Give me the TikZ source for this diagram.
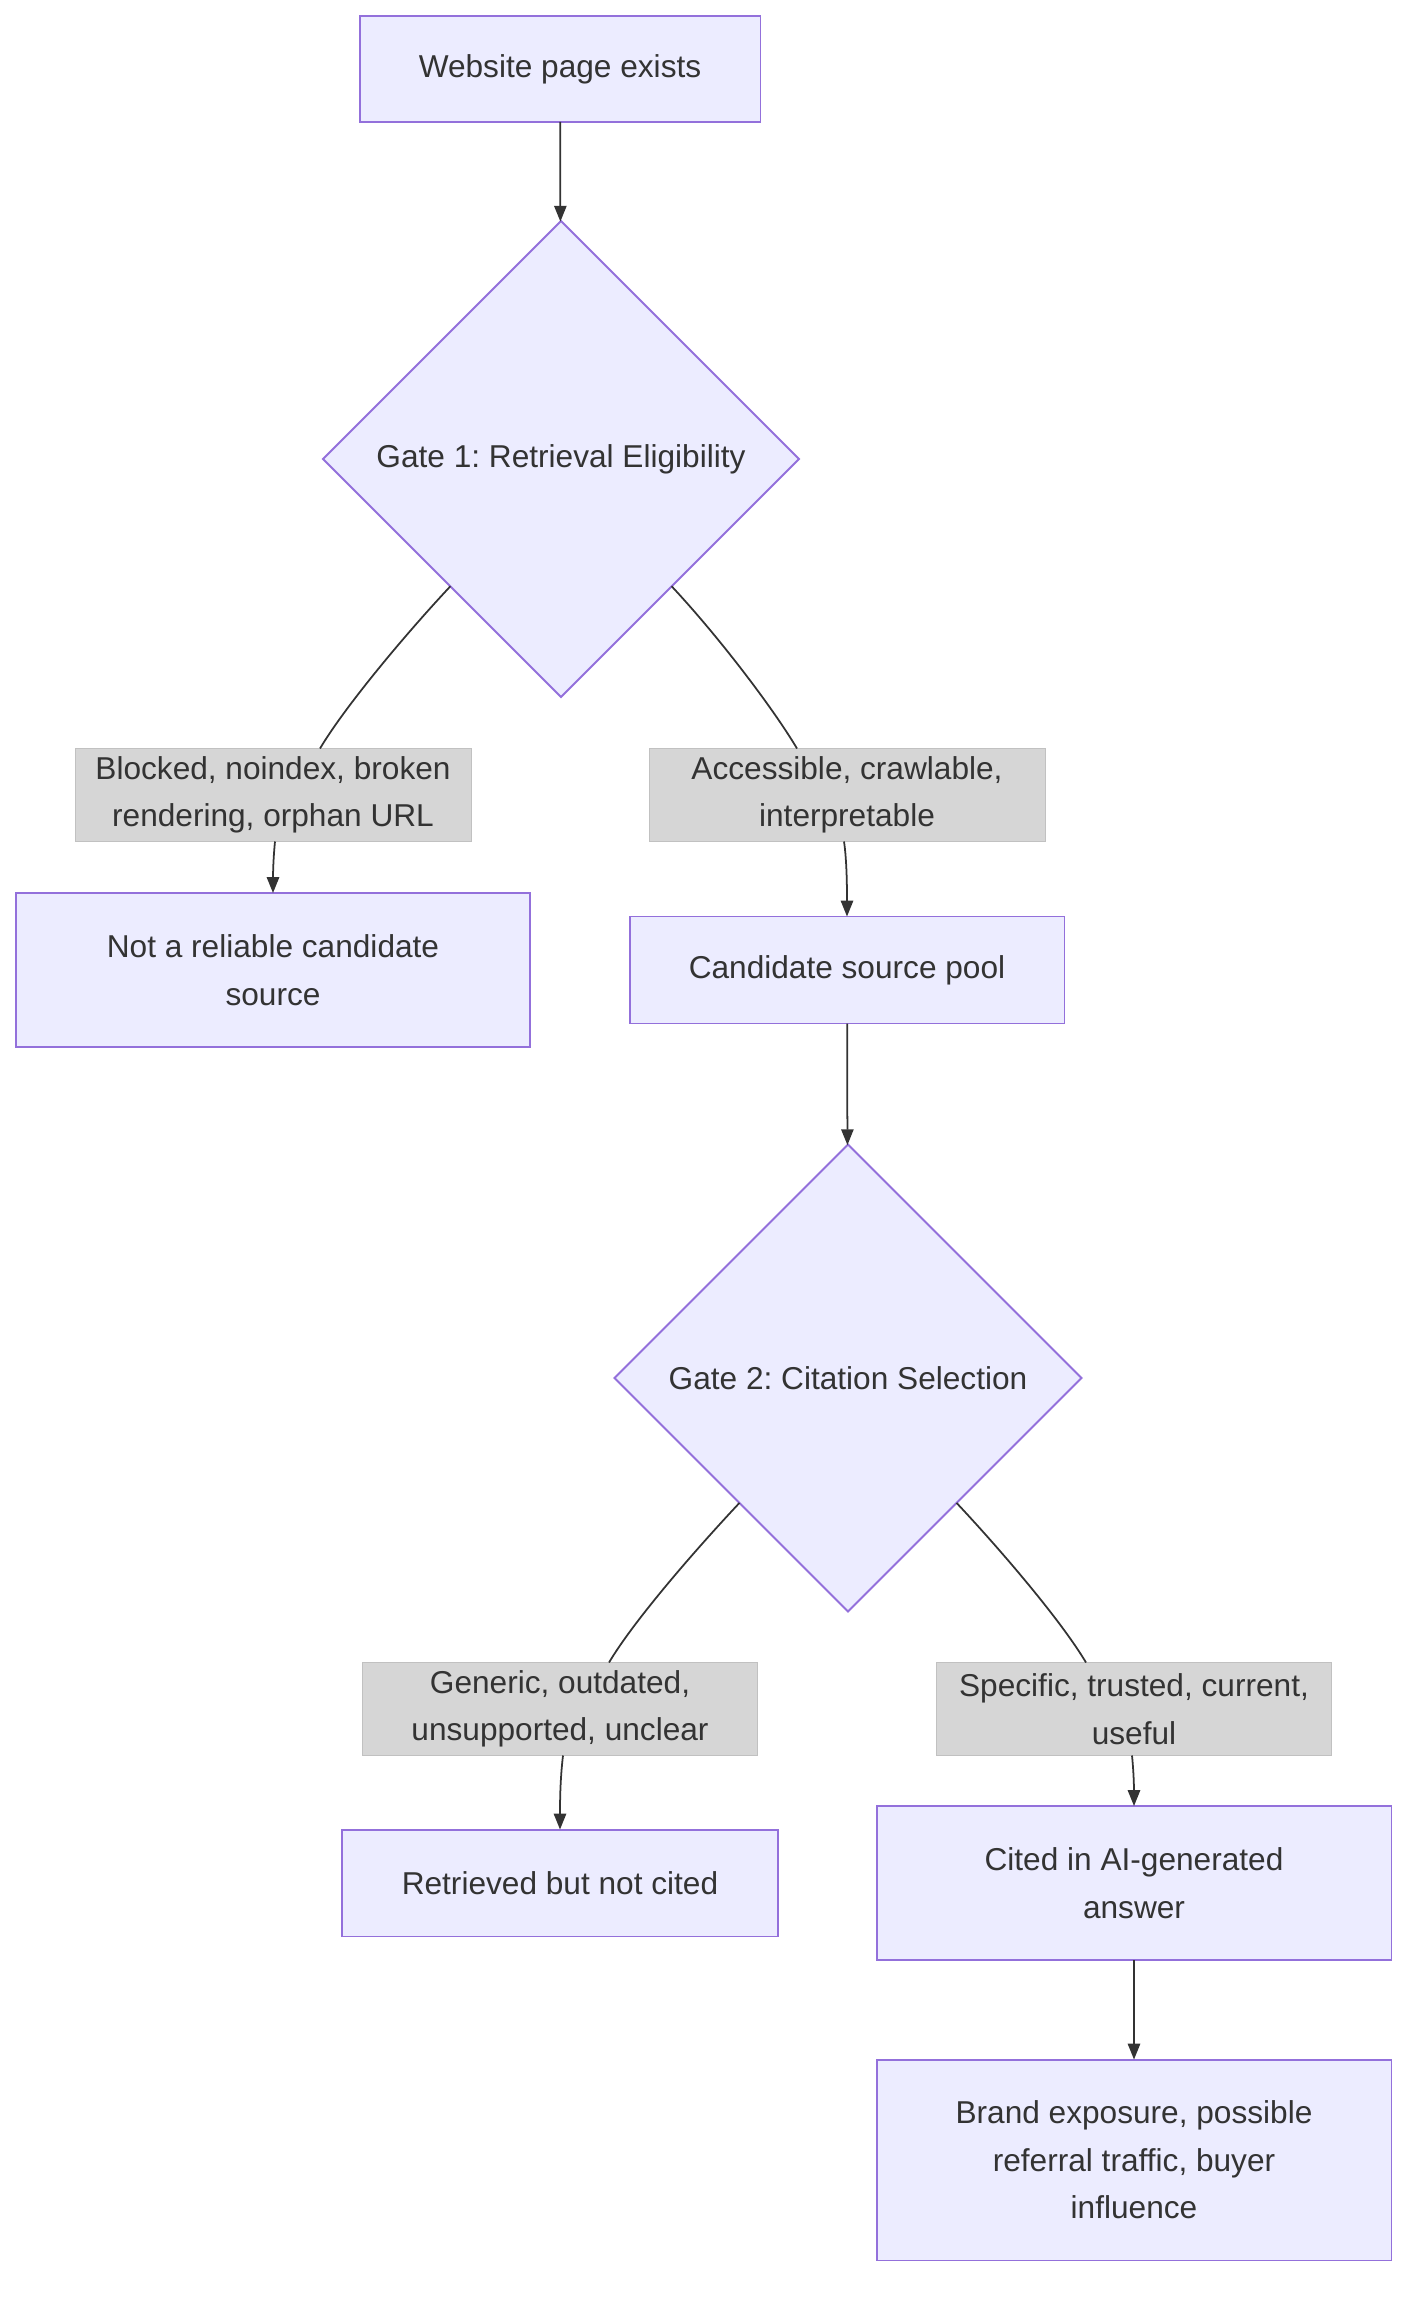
\documentclass[tikz,border=0pt]{standalone}
\usepackage{fontspec}
\setmainfont{Liberation Sans}
\usepackage{xcolor}
\definecolor{boxBack}  {HTML}{ECECFF}
\definecolor{boxLine}  {HTML}{9370DB}
\definecolor{lblBack}  {HTML}{D6D6D6}
\definecolor{inkDark}  {HTML}{333333}
\usetikzlibrary{arrows.meta, shapes.geometric}
\tikzset{
    flowbox/.style={draw=boxLine, fill=boxBack, line width=1.1pt,
                    rectangle, align=center, inner sep=0pt, outer sep=0pt,
                    text=inkDark, font=\fontsize{18}{27}\selectfont\frenchspacing},
    gate/.style={flowbox, diamond, aspect=1},
    edgelbl/.style={fill=lblBack, draw=lblBack!90!black, line width=0.3pt,
                    align=center, inner sep=0pt, outer sep=0pt,
                    text=inkDark, font=\fontsize{18}{27}\selectfont\frenchspacing,
                    minimum height=1.86cm},
    flowedge/.style={-{Triangle[length=9pt,width=7pt]}, line width=1pt, inkDark},
    plainedge/.style={-, line width=1pt, inkDark},
}
\begin{document}
\begin{tikzpicture}[x=0.02cm, y=-0.02cm]
\useasboundingbox (0,0) rectangle (1424,2302);
% --- Gate 1 ---
\node[flowbox, minimum width=8.02cm, minimum height=2.12cm] (page) at (560,69) {Website page exists};
\node[gate, minimum width=9.52cm, minimum height=9.52cm] (gate1) at (561,459) {Gate 1: Retrieval Eligibility};
\node[edgelbl, minimum width=7.92cm] (lbl-blocked) at (273,795) {Blocked, noindex, broken\\rendering, orphan URL};
\node[edgelbl, minimum width=7.92cm] (lbl-access) at (847,795) {Accessible, crawlable,\\interpretable};
\node[flowbox, minimum width=10.28cm, minimum height=3.08cm] (noref) at (273,970) {Not a reliable candidate\\source};
\node[flowbox, minimum width=8.7cm, minimum height=2.14cm] (pool) at (847,970) {Candidate source pool};
\draw[flowedge] (page) -- (gate1);
\draw[plainedge] (gate1.-131) .. controls +(-45,48) and +(25,-42) .. (lbl-blocked.north -| 320,0);
\draw[plainedge] (gate1.-49) .. controls +(45,48) and +(-25,-42) .. (lbl-access.north -| 797,0);
\draw[flowedge] (lbl-blocked.south -| 275,0) .. controls +(-2,20) and +(0,-15) .. (noref.north);
\draw[flowedge] (lbl-access.south -| 844,0) .. controls +(3,20) and +(0,-25) .. (pool.north);

% --- Gate 2 ---
\node[gate, minimum width=9.34cm, minimum height=9.34cm] (gate2) at (848,1378) {Gate 2: Citation Selection};
\node[edgelbl, minimum width=7.9cm] (lbl-generic) at (560,1709) {Generic, outdated,\\unsupported, unclear};
\node[edgelbl, minimum width=7.9cm] (lbl-specific) at (1134,1709) {Specific, trusted, current,\\useful};
\node[flowbox, minimum width=8.72cm, minimum height=2.14cm] (notcited) at (560,1883) {Retrieved but not cited};
\node[flowbox, minimum width=10.3cm, minimum height=3.08cm] (cited) at (1134,1883) {Cited in AI-generated\\answer};
\node[flowbox, minimum width=10.3cm, minimum height=4.02cm] (brand) at (1134,2160) {Brand exposure, possible\\referral traffic, buyer\\influence};
\draw[flowedge] (pool) -- (gate2);
\draw[plainedge] (gate2.-131) .. controls +(-45,48) and +(25,-42) .. (lbl-generic.north -| 609,0);
\draw[plainedge] (gate2.-49) .. controls +(45,48) and +(-25,-42) .. (lbl-specific.north -| 1086,0);
\draw[flowedge] (lbl-generic.south -| 563,0) .. controls +(-3,25) and +(0,-25) .. (notcited.north);
\draw[flowedge] (lbl-specific.south -| 1132,0) .. controls +(2,20) and +(0,-15) .. (cited.north);
\draw[flowedge] (cited) -- (brand);
\end{tikzpicture}
\end{document}
